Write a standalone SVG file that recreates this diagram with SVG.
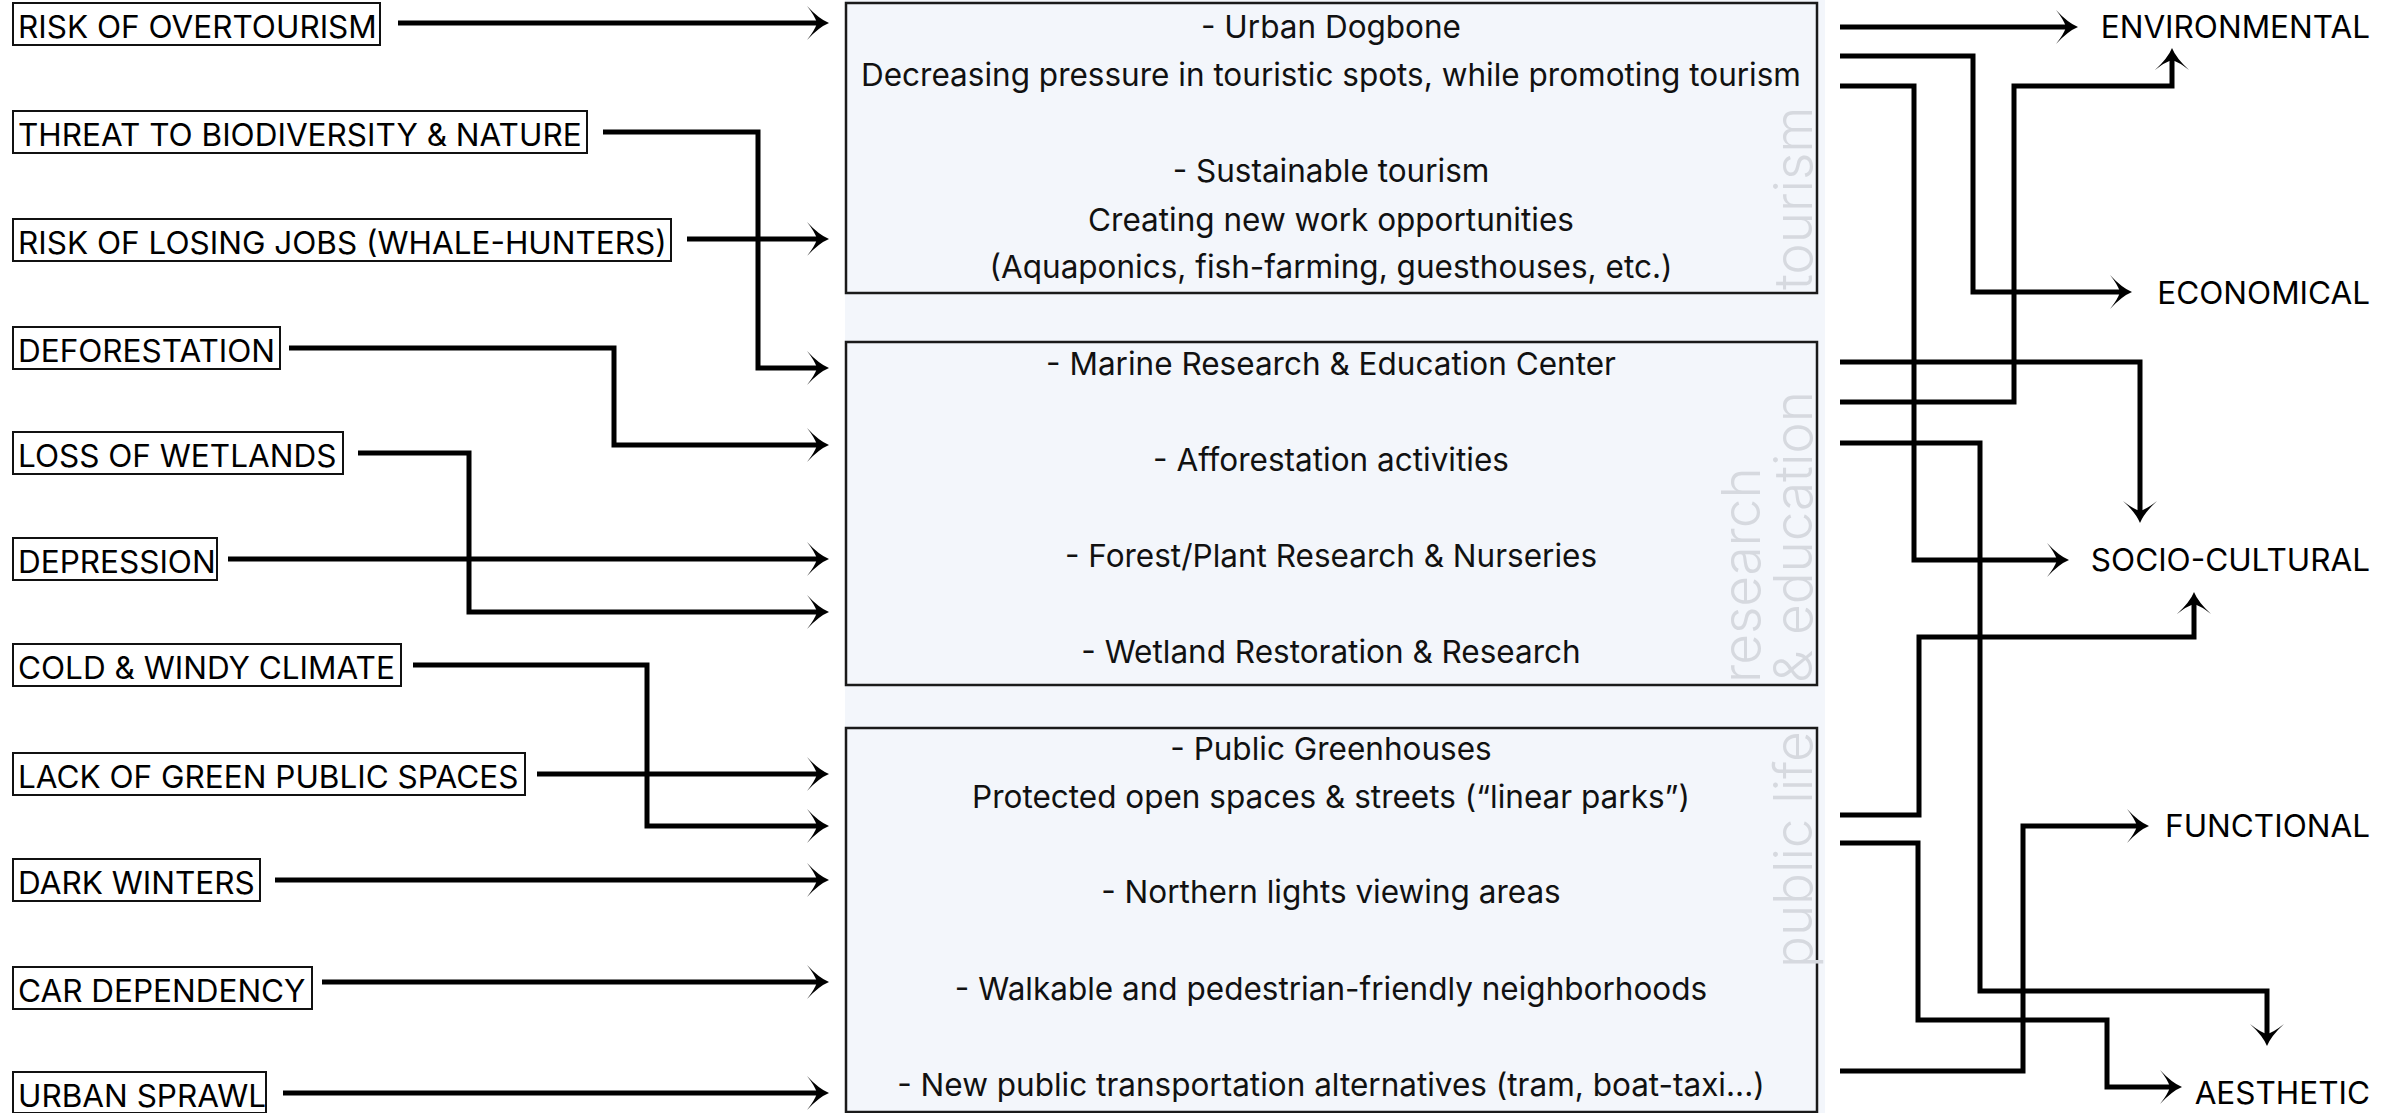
<svg xmlns="http://www.w3.org/2000/svg" width="2402" height="1113" viewBox="0 0 2402 1113">
<defs>
<style>
.lbl{font-family:Inter,"Liberation Sans",sans-serif;font-size:31.5px;fill:#000}
.lbox{fill:#fff;stroke:#111;stroke-width:2}
.mtxt{font-family:Inter,"Liberation Sans",sans-serif;font-size:31.5px;fill:#111;text-anchor:middle}
.mbox{fill:#f3f6fb;stroke:#1a1a1a;stroke-width:2.5}
.side{font-family:Inter,"Liberation Sans",sans-serif;font-size:53px;font-weight:300;fill:#d6d9df}
.out{font-family:Inter,"Liberation Sans",sans-serif;font-size:31.5px;fill:#000;text-anchor:end}
.con{fill:none;stroke:#000;stroke-width:5;stroke-linejoin:miter}
</style>
<marker id="arr" viewBox="0 0 22 34" refX="10" refY="17" markerWidth="22" markerHeight="34" markerUnits="userSpaceOnUse" orient="auto">
<path d="M22,17 Q12,13 0,0 Q8,10 10,17 Q8,24 0,34 Q12,21 22,17 Z" fill="#000"/>
</marker>
</defs>
<rect x="0" y="0" width="2402" height="1113" fill="#fff"/>
<rect id="panel" x="845" y="0" width="980" height="1113" fill="#f3f6fb"/>

<g id="problems">
<g id="p1"><rect class="lbox" x="13" y="3" width="367" height="42"/><text class="lbl" x="18" y="38">RISK OF OVERTOURISM</text></g>
<g id="p2"><rect class="lbox" x="13" y="111" width="574" height="42"/><text class="lbl" x="18" y="146">THREAT TO BIODIVERSITY &amp; NATURE</text></g>
<g id="p3"><rect class="lbox" x="13" y="219" width="658" height="42"/><text class="lbl" x="18" y="254">RISK OF LOSING JOBS (WHALE-HUNTERS)</text></g>
<g id="p4"><rect class="lbox" x="13" y="327" width="267" height="42"/><text class="lbl" x="18" y="362">DEFORESTATION</text></g>
<g id="p5"><rect class="lbox" x="13" y="432" width="330" height="42"/><text class="lbl" x="18" y="467">LOSS OF WETLANDS</text></g>
<g id="p6"><rect class="lbox" x="13" y="538" width="204" height="42"/><text class="lbl" x="18" y="573">DEPRESSION</text></g>
<g id="p7"><rect class="lbox" x="13" y="644" width="388" height="42"/><text class="lbl" x="18" y="679">COLD &amp; WINDY CLIMATE</text></g>
<g id="p8"><rect class="lbox" x="13" y="753" width="512" height="42"/><text class="lbl" x="18" y="788">LACK OF GREEN PUBLIC SPACES</text></g>
<g id="p9"><rect class="lbox" x="13" y="859" width="247" height="42"/><text class="lbl" x="18" y="894">DARK WINTERS</text></g>
<g id="p10"><rect class="lbox" x="13" y="967" width="299" height="42"/><text class="lbl" x="18" y="1002">CAR DEPENDENCY</text></g>
<g id="p11"><rect class="lbox" x="13" y="1072" width="253" height="41"/><text class="lbl" x="18" y="1107">URBAN SPRAWL</text></g>
</g>

<g id="tourism">
<rect class="mbox" x="846" y="3" width="971" height="290"/>
<text class="side" transform="translate(1812,290) rotate(-90)">tourism</text>
<text class="mtxt" x="1331" y="38">- Urban Dogbone</text>
<text class="mtxt" x="1331" y="86">Decreasing pressure in touristic spots, while promoting tourism</text>
<text class="mtxt" x="1331" y="182">- Sustainable tourism</text>
<text class="mtxt" x="1331" y="231">Creating new work opportunities</text>
<text class="mtxt" x="1331" y="278">(Aquaponics, fish-farming, guesthouses, etc.)</text>
</g>

<g id="research">
<rect class="mbox" x="846" y="342" width="971" height="343"/>
<text class="side" transform="translate(1760,683) rotate(-90)">research</text>
<text class="side" transform="translate(1812,683) rotate(-90)">&amp; education</text>
<text class="mtxt" x="1331" y="375">- Marine Research &amp; Education Center</text>
<text class="mtxt" x="1331" y="471">- Afforestation activities</text>
<text class="mtxt" x="1331" y="567">- Forest/Plant Research &amp; Nurseries</text>
<text class="mtxt" x="1331" y="663">- Wetland Restoration &amp; Research</text>
</g>

<g id="publiclife">
<rect class="mbox" x="846" y="728" width="971" height="384"/>
<text class="side" transform="translate(1812,968) rotate(-90)">public life</text>
<text class="mtxt" x="1331" y="760">- Public Greenhouses</text>
<text class="mtxt" x="1331" y="808">Protected open spaces &amp; streets (“linear parks”)</text>
<text class="mtxt" x="1331" y="903">- Northern lights viewing areas</text>
<text class="mtxt" x="1331" y="1000">- Walkable and pedestrian-friendly neighborhoods</text>
<text class="mtxt" x="1331" y="1096">- New public transportation alternatives (tram, boat-taxi...)</text>
</g>

<g id="outcomes">
<text id="o-env" class="out" x="2370" y="38">ENVIRONMENTAL</text>
<text id="o-eco" class="out" x="2370" y="304">ECONOMICAL</text>
<text id="o-soc" class="out" x="2370" y="571">SOCIO-CULTURAL</text>
<text id="o-fun" class="out" x="2370" y="837">FUNCTIONAL</text>
<text id="o-aes" class="out" x="2370" y="1104">AESTHETIC</text>
</g>

<g id="connectors">
<path class="con" marker-end="url(#arr)" d="M398,23 H817"/>
<path class="con" marker-end="url(#arr)" d="M603,132 H758 V368 H817"/>
<path class="con" marker-end="url(#arr)" d="M687,239 H817"/>
<path class="con" marker-end="url(#arr)" d="M289,348 H614 V445 H817"/>
<path class="con" marker-end="url(#arr)" d="M358,453 H469 V612 H817"/>
<path class="con" marker-end="url(#arr)" d="M228,559 H817"/>
<path class="con" marker-end="url(#arr)" d="M413,665 H647 V826 H817"/>
<path class="con" marker-end="url(#arr)" d="M537,774 H817"/>
<path class="con" marker-end="url(#arr)" d="M275,880 H817"/>
<path class="con" marker-end="url(#arr)" d="M322,982 H817"/>
<path class="con" marker-end="url(#arr)" d="M283,1093 H817"/>

<path class="con" marker-end="url(#arr)" d="M1840,27 H2066"/>
<path class="con" marker-end="url(#arr)" d="M1840,56 H1973 V292 H2120"/>
<path class="con" marker-end="url(#arr)" d="M1840,86 H1914 V560 H2057"/>
<path class="con" marker-end="url(#arr)" d="M1840,402 H2014 V86 H2172 V60"/>
<path class="con" marker-end="url(#arr)" d="M1840,362 H2140 V511"/>
<path class="con" marker-end="url(#arr)" d="M1840,443 H1980 V991 H2267 V1034"/>
<path class="con" marker-end="url(#arr)" d="M1840,815 H1919 V637 H2194 V604"/>
<path class="con" marker-end="url(#arr)" d="M1840,843 H1918 V1020 H2107 V1087 H2170"/>
<path class="con" marker-end="url(#arr)" d="M1840,1071 H2023 V826 H2137"/>
</g>
</svg>
